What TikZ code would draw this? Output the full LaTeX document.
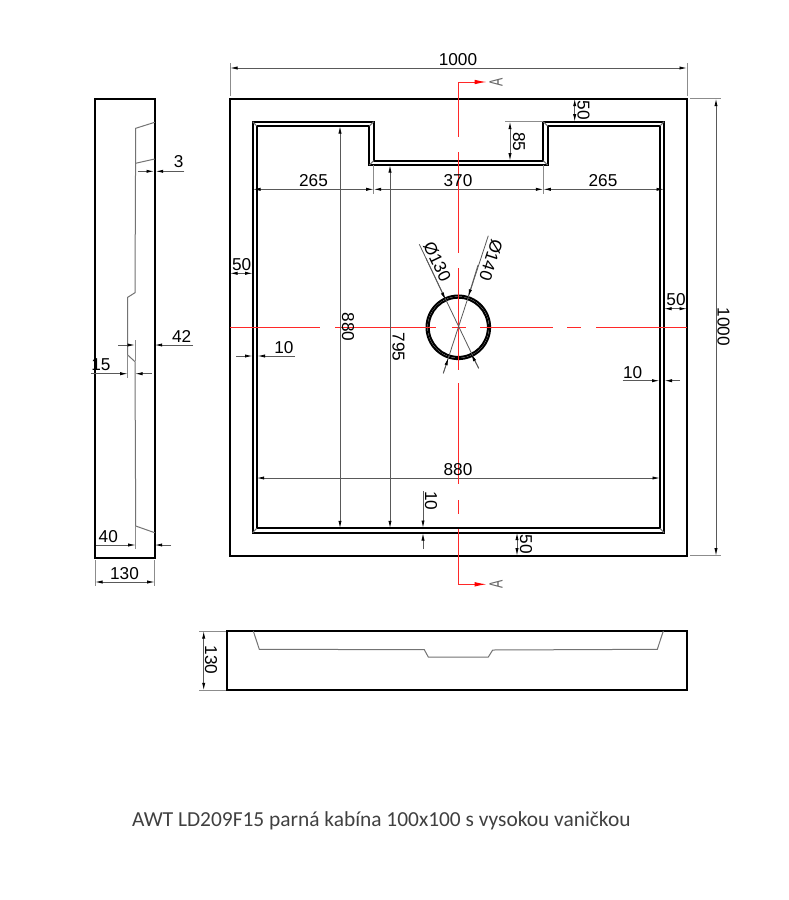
\documentclass[tikz,border=0pt]{standalone}
\usepackage{fontspec}
\setmainfont{Liberation Sans}
\newfontfamily\captionfont{Carlito}
\usetikzlibrary{arrows.meta}

\definecolor{cutred}{RGB}{255,40,40}

\tikzset{
  outline/.style={draw=black,line width=2.3pt,line join=miter},
  wall/.style={draw=black,line width=2pt,line join=miter},
  detail/.style={draw=black!55,line width=1pt},
  dimline/.style={draw=black!65,line width=0.8pt,>={Latex[length=7.5pt,width=3.2pt,black]}},
  extline/.style={draw=black!45,line width=0.9pt},
  cutline/.style={draw=cutred,line width=1.1pt},
  cutarrow/.style={draw=cutred,line width=1pt,-{Latex[length=12pt,width=4.5pt,red]}},
  dimtext/.style={font=\fontsize{17.2}{18}\selectfont,text=black,inner sep=0pt},
  cuttext/.style={font=\fontsize{19}{19}\selectfont,text=black!60,inner sep=0pt,rotate=90}
}

\begin{document}
\begin{tikzpicture}[x=1pt,y=-1pt]
  \useasboundingbox[fill=white] (0,0) rectangle (789,900);

  % Top view
  \draw[outline] (230,98.7) rectangle (687,555.7);
  \draw[wall] (252.7,121.7) -- (373.7,121.7) -- (373.7,160.7) -- (543.3,160.7)
    -- (543.3,121.7) -- (664,121.7) -- (664,532.7) -- (252.7,532.7) -- cycle;
  \draw[wall] (256.7,126) -- (369.3,126) -- (369.3,165) -- (547.7,165)
    -- (547.7,126) -- (660,126) -- (660,528.3) -- (256.7,528.3) -- cycle;
  \foreach \a/\b/\c/\d in {252.7/121.7/256.7/126,373.7/121.7/369.3/126,373.7/160.7/369.3/165,
    543.3/160.7/547.7/165,543.3/121.7/547.7/126,664/121.7/660/126,664/532.7/660/528.3,252.7/532.7/256.7/528.3} {
    \draw[detail] (\a,\b) -- (\c,\d);
  }

  % Drain
  \draw[wall] (458.3,327.3) circle (31.8);
  \draw[wall] (458.3,327.3) circle (29.6);

  % Top view, dimensions across
  \draw[extline] (230,63) -- (230,96);
  \draw[extline] (687,63) -- (687,96);
  \draw[dimline,<->] (230,68) -- (687,68);
  \node[dimtext] (top1000) at (458,60) {1000};
  \draw[extline] (373.7,165) -- (373.7,194);
  \draw[extline] (543.3,165) -- (543.3,194);
  \draw[dimline,<->] (253,189.3) -- (373.7,189.3);
  \draw[dimline,<->] (373.7,189.3) -- (543.3,189.3);
  \draw[dimline,<->] (543.3,189.3) -- (664,189.3);
  \draw[dimline,<->] (256.7,478) -- (660,478);

  % Section lines
  \foreach \a/\b in {82/136.7,152.3/252.7,268/370,383/484.3,500/514,529.3/584.3} {
    \draw[cutline] (458.3,\a) -- (458.3,\b);
  }
  \foreach \a/\b in {230/320,335/436,452/466,480/552.5,567/581,596/687} {
    \draw[cutline] (\a,327.3) -- (\b,327.3);
  }
  \draw[cutarrow] (458.3,82) -- (486.7,82);
  \draw[cutarrow] (458.3,584.3) -- (486.7,584.3);
  \node[cuttext] (cuttop) at (496,82) {\scalebox{0.65}[1]{A}};
  \node[cuttext] (cutbottom) at (496,584.3) {\scalebox{0.65}[1]{A}};

  % Labels across
  \node[dimtext] (left265) at (313.5,181) {265};
  \node[dimtext] (mid370) at (458,181) {370};
  \node[dimtext] (right265) at (603,181) {265};
  \node[dimtext] (across880) at (458,470) {880};

  % Top view, dimensions down
  \draw[extline] (690,98.7) -- (721,98.7);
  \draw[extline] (690,555.7) -- (721,555.7);
  \draw[dimline,<->] (716,98.7) -- (716,555.7);
  \node[dimtext,rotate=-90] (right1000) at (723.5,327) {1000};
  \draw[dimline,<->] (340,126) -- (340,528.3);
  \node[dimtext,rotate=-90] (down880) at (348,327) {880};
  \draw[dimline,<->] (390,165) -- (390,528.3);
  \node[dimtext,rotate=-90] (down795) at (398.5,347) {795};
  \draw[extline] (505,121.7) -- (543,121.7);
  \draw[dimline,<->] (510,121.7) -- (510,160.7);
  \node[dimtext,rotate=-90] (notch85) at (519,141.7) {85};

  % Rim widths
  \draw[dimline,<->] (574.7,98.7) -- (574.7,121.7);
  \node[dimtext,rotate=-90] (rimtop) at (583.5,110) {50};
  \draw[dimline,<->] (517,532.7) -- (517,555.7);
  \node[dimtext,rotate=-90] (rimbottom) at (526,544) {50};
  \draw[dimline,<->] (230,273.3) -- (252.7,273.3);
  \node[dimtext] (rimleft) at (241.7,265) {50};
  \draw[dimline,<->] (664,308.7) -- (687,308.7);
  \node[dimtext] (rimright) at (676,300) {50};

  % Lip widths
  \draw[dimline,->] (236,356) -- (252.5,356);
  \draw[dimline,->] (295,356) -- (257.5,356);
  \node[dimtext] (lipleft) at (284,348) {10};
  \draw[dimline,->] (622.7,380.7) -- (659.5,380.7);
  \draw[dimline,->] (680,380.7) -- (664.5,380.7);
  \node[dimtext] (lipright) at (632.7,372.7) {10};
  \draw[dimline,->] (423,491) -- (423,528);
  \draw[dimline,->] (423,549) -- (423,533);
  \node[dimtext,rotate=-90] (lipbottom) at (431,500.7) {10};

  % Drain leaders
  \draw[dimline] (419.3,244.3) -- (478.7,368.3);
  \draw[dimline] (488.3,235.7) -- (443.3,373.3);
  \draw[dimline,->] (426,258.3) -- (445.5,299.8);
  \draw[dimline,->] (478.7,368.3) -- (471.2,354);
  \draw[dimline,->] (478,265) -- (468.2,296.8);
  \draw[dimline,->] (443.3,373.3) -- (448.4,357.8);
  \node[dimtext,rotate=-64.4] (dia130) at (437.3,261.7) {Ø130};
  \node[dimtext,rotate=-108] (dia140) at (491,260) {Ø140};

  % Side view
  \draw[outline] (95,99) rectangle (154.7,558);
  \draw[detail] (154.7,122.3) -- (135.7,128.3) -- (135,292.7) -- (127.7,297.3) -- (127.7,355)
    -- (135,361.7) -- (135.7,526) -- (154.7,532.7);
  \draw[detail] (135.5,163.3) -- (154.7,159);

  % Side view, dimensions
  \draw[dimline,->] (137.7,171.3) -- (154,171.3);
  \draw[dimline,->] (184.3,171.3) -- (155.7,171.3);
  \node[dimtext] (side3) at (178.7,162) {3};
  \draw[extline] (135,340) -- (135,361);
  \draw[dimline,->] (118,345) -- (135,345);
  \draw[dimline,->] (193,345) -- (154.7,345);
  \node[dimtext] (side42) at (181.7,336.7) {42};
  \draw[extline] (127.7,355) -- (127.7,378);
  \draw[dimline,->] (91,373.7) -- (127.7,373.7);
  \draw[dimline,->] (151.7,373.7) -- (135,373.7);
  \node[dimtext] (side15) at (101,365) {15};
  \draw[extline] (135.7,526) -- (135.7,549.3);
  \draw[dimline,->] (96,545) -- (135.7,545);
  \draw[dimline,->] (171,545) -- (154.7,545);
  \node[dimtext] (side40) at (108.3,537) {40};
  \draw[extline] (95,560) -- (95,586);
  \draw[extline] (154.7,560) -- (154.7,586);
  \draw[dimline,<->] (95,582) -- (154.7,582);
  \node[dimtext] (side130) at (124.5,574) {130};

  % Front view
  \draw[outline] (227.3,631) rectangle (687.3,690.3);
  \draw[detail] (253.3,631) -- (259.3,649.3) -- (424.3,649.7) -- (428.3,657) -- (488.3,657)
    -- (492.7,650) -- (657.3,649.3) -- (663.3,631);
  \draw[extline] (199,631) -- (226,631);
  \draw[extline] (199,690.3) -- (226,690.3);
  \draw[dimline,<->] (203.7,631) -- (203.7,690.3);
  \node[dimtext,rotate=-90] (front130) at (211,660) {130};

  % Caption
  \node[font=\captionfont\fontsize{21.4}{22}\selectfont,text=black!75,inner sep=0pt,anchor=west] (caption)
    at (132,820.5) {AWT LD209F15 parná kabína 100x100 s vysokou vaničkou};
\end{tikzpicture}
\end{document}
